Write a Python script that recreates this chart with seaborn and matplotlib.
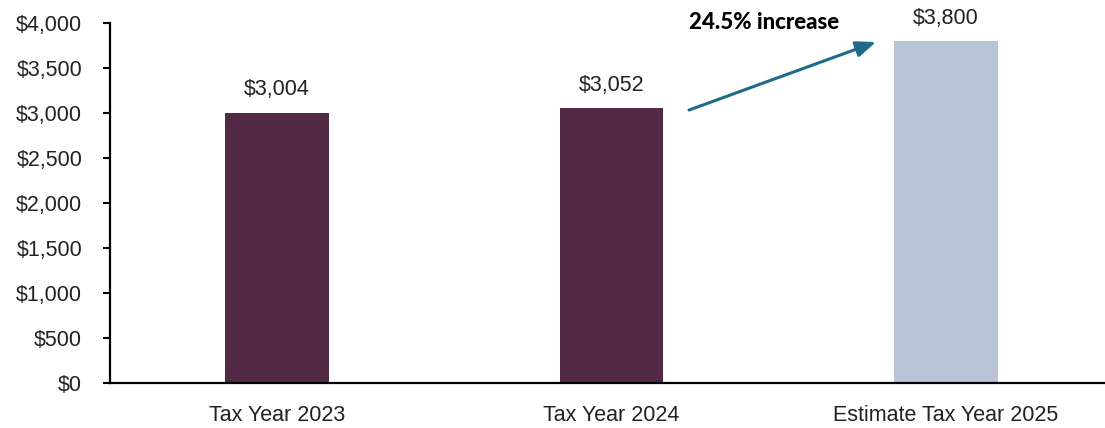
import matplotlib
matplotlib.use("Agg")
import matplotlib.pyplot as plt
import seaborn as sns
import pandas as pd

categories = ["Tax Year 2023", "Tax Year 2024", "Estimate Tax Year 2025"]
values = [3004, 3052, 3800]
value_labels = ["$3,004", "$3,052", "$3,800"]
bar_colors = ["#522A45", "#522A45", "#B8C4D6"]
y_ticks = [0, 500, 1000, 1500, 2000, 2500, 3000, 3500, 4000]
annotation_text = "24.5% increase"

sns.set_theme(style="white")
plt.rcParams["font.family"] = ["Liberation Sans", "DejaVu Sans"]

df = pd.DataFrame({"category": categories, "value": values})

fig = plt.figure(figsize=(11.05, 4.28), dpi=100)
ax = fig.add_axes([110 / 1105, 1 - 383 / 428, 1 - 110 / 1105, (383 - 23) / 428])

sns.barplot(data=df, x="category", y="value", hue="category",
            palette=bar_colors, width=0.31, legend=False, ax=ax,
            saturation=1, edgecolor="none")

for i, (v, lab) in enumerate(zip(values, value_labels)):
    ax.text(i, v + 135, lab, ha="center", va="bottom", fontsize=15.5, color="#222222")

ax.set_ylim(0, 4000)
ax.set_xlim(-0.5, 2.476)
ax.set_yticks(y_ticks)
ax.set_yticklabels([f"${t:,}" for t in y_ticks], fontsize=15.5, color="#222222")
ax.tick_params(axis="y", direction="out", length=5, width=1.5, color="black", pad=15, left=True)
ax.tick_params(axis="x", length=0, pad=16)
for lbl in ax.get_xticklabels():
    lbl.set_fontsize(15.5)
    lbl.set_color("#222222")
ax.set_xlabel("")
ax.set_ylabel("")

for s in ["top", "right"]:
    ax.spines[s].set_visible(False)
ax.spines["left"].set_color("black")
ax.spines["left"].set_linewidth(1.6)
ax.spines["bottom"].set_color("black")
ax.spines["bottom"].set_linewidth(1.6)

ax.annotate("", xy=(1.791, 3789), xytext=(1.232, 3033),
            arrowprops=dict(arrowstyle="-|>,head_length=1.0,head_width=0.4",
                            color="#1F6A8A", lw=2.2, shrinkA=0, shrinkB=0),
            annotation_clip=False)
ax.text(1.455, 4011, annotation_text, ha="center", va="center", fontsize=16,
        fontweight=900, color="black", family=["Lato", "DejaVu Sans"], clip_on=False)

fig.savefig("out.png", dpi=100)
